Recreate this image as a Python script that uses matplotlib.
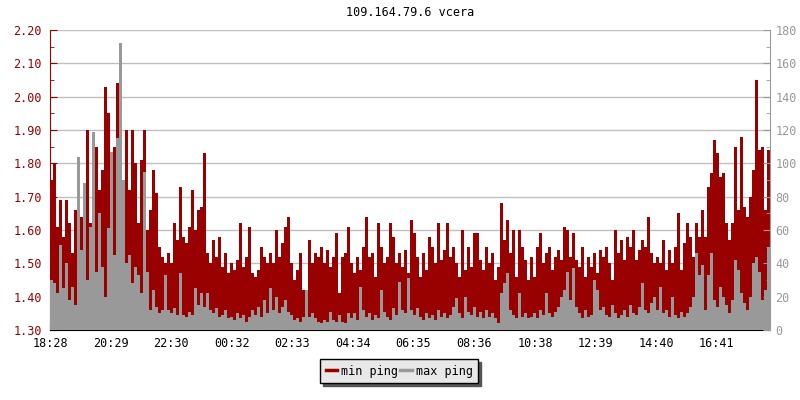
import numpy as np
import matplotlib
matplotlib.use('Agg')
import matplotlib.pyplot as plt
from matplotlib.lines import Line2D
from matplotlib.ticker import MultipleLocator

# tick labels on the time axis (start 18:28, one sample every 6 minutes)
time_labels = ['18:28', '20:29', '22:30', '00:32', '02:33', '04:34',
               '06:35', '08:36', '10:38', '12:39', '14:40', '16:41']
step_minutes = 6

# min ping (left axis)
min_ping = [
    1.75, 1.80, 1.61, 1.69, 1.58, 1.69, 1.62, 1.53, 1.66, 1.77, 1.64, 1.72, 1.90, 1.62, 1.73, 1.85, 1.72, 1.78, 2.03, 1.95,
    1.70, 1.85, 2.04, 1.88, 1.74, 1.90, 1.72, 1.90, 1.80, 1.62, 1.81, 1.90, 1.60, 1.66, 1.78, 1.71, 1.55, 1.52, 1.50, 1.53,
    1.50, 1.62, 1.57, 1.73, 1.58, 1.56, 1.61, 1.72, 1.60, 1.66, 1.67, 1.83, 1.53, 1.50, 1.57, 1.52, 1.58, 1.49, 1.53, 1.47,
    1.50, 1.48, 1.51, 1.62, 1.49, 1.52, 1.61, 1.47, 1.46, 1.48, 1.55, 1.52, 1.50, 1.53, 1.50, 1.60, 1.52, 1.56, 1.61, 1.64,
    1.50, 1.45, 1.48, 1.53, 1.42, 1.40, 1.57, 1.50, 1.53, 1.52, 1.55, 1.50, 1.54, 1.49, 1.52, 1.59, 1.41, 1.52, 1.53, 1.61,
    1.50, 1.47, 1.52, 1.48, 1.55, 1.64, 1.52, 1.53, 1.46, 1.62, 1.55, 1.50, 1.52, 1.62, 1.58, 1.50, 1.53, 1.49, 1.54, 1.47,
    1.63, 1.59, 1.52, 1.46, 1.53, 1.48, 1.58, 1.55, 1.50, 1.62, 1.51, 1.54, 1.62, 1.52, 1.55, 1.50, 1.46, 1.60, 1.48, 1.55,
    1.49, 1.59, 1.59, 1.51, 1.48, 1.55, 1.50, 1.53, 1.45, 1.49, 1.68, 1.57, 1.63, 1.53, 1.60, 1.46, 1.60, 1.55, 1.51, 1.45,
    1.52, 1.46, 1.55, 1.59, 1.50, 1.53, 1.55, 1.48, 1.52, 1.54, 1.51, 1.61, 1.60, 1.52, 1.59, 1.51, 1.49, 1.55, 1.46, 1.52,
    1.49, 1.53, 1.47, 1.54, 1.52, 1.55, 1.50, 1.45, 1.60, 1.53, 1.57, 1.51, 1.58, 1.55, 1.60, 1.51, 1.54, 1.57, 1.55, 1.64,
    1.53, 1.50, 1.52, 1.50, 1.57, 1.48, 1.54, 1.50, 1.55, 1.65, 1.48, 1.56, 1.62, 1.58, 1.52, 1.62, 1.58, 1.66, 1.58, 1.73,
    1.77, 1.87, 1.83, 1.76, 1.77, 1.62, 1.57, 1.62, 1.85, 1.66, 1.88, 1.67, 1.64, 1.70, 1.78, 2.05, 1.84, 1.85, 1.66, 1.84,
]

# max ping (right axis)
max_ping = [
    30, 28, 22, 51, 25, 40, 18, 26, 15, 104, 48, 88, 30, 62, 119, 35, 70, 38, 20, 61,
    107, 45, 115, 172, 90, 40, 45, 28, 38, 33, 22, 95, 35, 12, 24, 14, 10, 12, 33, 12,
    10, 13, 9, 34, 9, 8, 11, 9, 25, 15, 22, 14, 22, 12, 10, 13, 8, 9, 12, 7,
    8, 6, 10, 7, 9, 5, 8, 12, 9, 14, 8, 18, 10, 25, 12, 20, 10, 14, 18, 11,
    9, 6, 7, 5, 8, 24, 8, 10, 7, 5, 4, 6, 5, 11, 6, 5, 9, 5, 4, 10,
    7, 10, 6, 26, 12, 8, 10, 6, 9, 7, 24, 11, 8, 6, 13, 9, 29, 12, 10, 31,
    12, 9, 13, 8, 6, 10, 7, 9, 6, 12, 8, 10, 7, 9, 14, 19, 10, 7, 20, 11,
    9, 14, 8, 11, 7, 12, 8, 10, 7, 4, 22, 28, 34, 12, 9, 7, 22, 8, 10, 7,
    8, 10, 7, 12, 9, 22, 10, 8, 11, 14, 20, 24, 35, 18, 37, 14, 10, 7, 12, 8,
    9, 30, 24, 12, 14, 9, 8, 15, 10, 7, 9, 12, 8, 15, 10, 9, 14, 28, 12, 10,
    16, 20, 12, 26, 10, 12, 8, 20, 9, 7, 11, 8, 10, 14, 20, 46, 33, 39, 12, 33,
    46, 18, 14, 26, 20, 15, 10, 18, 42, 36, 22, 16, 12, 20, 40, 44, 35, 18, 24, 50,
]

RED = '#990000'
GRAY = '#999999'
plt.rcParams['font.family'] = ['DejaVu Sans Mono']
plt.rcParams['font.size'] = 8.5

edges = np.arange(len(min_ping) + 1) * step_minutes


# minutes after the first label, for each tick label
def to_minutes(label):
    h, m = label.split(':')
    start_h, start_m = time_labels[0].split(':')
    return (int(h) * 60 + int(m) - int(start_h) * 60 - int(start_m)) % 1440


tick_pos = [to_minutes(t) for t in time_labels]

fig = plt.figure(figsize=(8, 4), dpi=100)
ax = fig.add_axes([0.0625, 0.175, 0.9, 0.75])
ax2 = ax.twinx()

ax.stairs(min_ping, edges, baseline=1.30, fill=True, color=RED, lw=0)
ax2.stairs(max_ping, edges, baseline=0, fill=True, color=GRAY, lw=0)

ax.set_xlim(edges[0], edges[-1])
ax.set_ylim(1.30, 2.20)
ax2.set_ylim(0, 180)

ax.set_axisbelow(True)
ax.yaxis.set_major_locator(MultipleLocator(0.1))
ax.yaxis.set_minor_locator(MultipleLocator(0.05))
ax.yaxis.set_major_formatter(lambda v, p: '%.2f' % v)
ax.grid(axis='y', color='#c0c0c0', lw=1)
ax2.yaxis.set_major_locator(MultipleLocator(20))
ax2.yaxis.set_minor_locator(MultipleLocator(10))

ax.set_xticks(tick_pos)
ax.set_xticklabels(time_labels)

ax.tick_params(axis='y', which='both', direction='in', colors=RED, pad=6)
ax.tick_params(axis='y', which='major', length=5)
ax.tick_params(axis='y', which='minor', length=3)
ax.tick_params(axis='x', direction='in', length=5, color='black', pad=5)
ax2.tick_params(axis='y', which='both', direction='in', colors=GRAY, pad=4)
ax2.tick_params(axis='y', which='major', length=5)
ax2.tick_params(axis='y', which='minor', length=3)

for a in (ax, ax2):
    a.spines['top'].set_visible(False)
ax.spines['right'].set_visible(False)
ax2.spines['left'].set_visible(False)
ax2.spines['bottom'].set_visible(False)
ax.spines['left'].set_color(RED)
ax2.spines['right'].set_color(GRAY)
ax.spines['bottom'].set_color('black')

fig.text(0.5125, 0.9675, '109.164.79.6 vcera', ha='center', va='center', fontsize=8.5)

handles = [Line2D([], [], color=RED, lw=2.5), Line2D([], [], color=GRAY, lw=2.5)]
leg = fig.legend(handles, ['min ping', 'max ping'], loc='center',
                 bbox_to_anchor=(0.499, 0.0725), ncol=2, frameon=True,
                 fancybox=False, shadow={'color': '#555555', 'alpha': 1},
                 handlelength=1.0, handletextpad=0.3, columnspacing=0.2,
                 borderpad=0.45, fontsize=8.5)
leg.get_frame().set_facecolor('#e8e8e8')
leg.get_frame().set_edgecolor('black')
leg.get_frame().set_alpha(1)

plt.savefig('out.png')
